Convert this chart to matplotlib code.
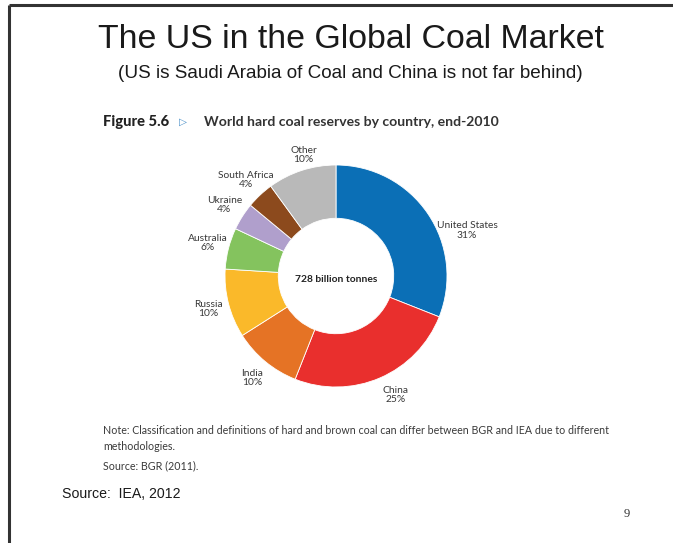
import numpy as np
import matplotlib
matplotlib.use("Agg")
from matplotlib import pyplot as plt

# World hard coal reserves by country, end-2010 (share of total, %)
countries = ["United States", "China", "India", "Russia", "Australia",
             "Ukraine", "South Africa", "Other"]
shares = [31, 25, 10, 10, 6, 4, 4, 10]
total_reserves = "728 billion tonnes"

colors = ["#0b6fb6", "#e92f2d", "#e57325", "#fab92a", "#84c35e",
          "#b09fcc", "#8c4a1d", "#b9b9b9"]

# label placement tweaks (degrees, radius factor) relative to wedge middle
label_tweak = {"United States": (-15, 1.25), "China": (3, 1.2), "Other": (-3, 1.13)}

W, H = 673, 543
fig = plt.figure(figsize=(W / 100, H / 100), dpi=100)
ax = fig.add_axes([0, 0, 1, 1])

# work in pixel coordinates, y measured from the top
cx, cy, R = 336, 276, 111
wedges, _ = ax.pie(shares, colors=colors, startangle=90, counterclock=False,
                   center=(cx, H - cy), radius=R,
                   wedgeprops=dict(width=R * 0.48, edgecolor="white", linewidth=0.6))
ax.set_xlim(0, W)
ax.set_ylim(0, H)
ax.set_aspect("auto")
ax.axis("off")

label_font = ["Lato", "DejaVu Sans"]
for w, name, val in zip(wedges, countries, shares):
    mid = (w.theta1 + w.theta2) / 2
    dang, rf = label_tweak.get(name, (0, 1.19))
    a = np.deg2rad(mid + dang)
    x = cx + rf * R * np.cos(a)
    y = (H - cy) + rf * R * np.sin(a)
    ax.text(x, y, f"{name}\n{val}%", ha="center", va="center", fontsize=7.4,
            family=label_font, color="#383838", linespacing=1.05)

ax.text(cx, H - 279, total_reserves, ha="center", va="center", fontsize=7.4,
        family=label_font, fontweight="bold", color="#222222")

# slide title and subtitle
ax.text(351, H - 40, "The US in the Global Coal Market", ha="center", va="center",
        fontsize=24.4, family="Liberation Sans", color="#1a1a1a")
ax.text(350, H - 74, "(US is Saudi Arabia of Coal and China is not far behind)",
        ha="center", va="center", fontsize=13.6, family="Liberation Sans", color="#1a1a1a")

# figure caption
ax.text(103, H - 122, "Figure 5.6", ha="left", va="center", fontsize=10.6,
        family=label_font, fontweight="black", color="#222222")
ax.text(179, H - 122, "\u25B7", ha="left", va="center", fontsize=7.5,
        family="DejaVu Sans", color="#4a90c8")
ax.text(204, H - 122, "World hard coal reserves by country, end-2010", ha="left",
        va="center", fontsize=10.1, family=label_font, fontweight="bold", color="#333333")

# notes under the chart
note_kw = dict(ha="left", va="center", fontsize=7.7, family=label_font, color="#3a3a3a")
ax.text(103, H - 430, "Note: Classification and definitions of hard and brown coal can "
        "differ between BGR and IEA due to different", **note_kw)
ax.text(103, H - 447, "methodologies.", **note_kw)
ax.text(103, H - 466, "Source: BGR (2011).", **note_kw)

ax.text(62, H - 494, "Source:  IEA, 2012", ha="left", va="center", fontsize=10.2,
        family="Liberation Sans", color="#1a1a1a")
ax.text(627, H - 514, "9", ha="center", va="center", fontsize=9,
        family="Liberation Serif", color="#333333")

# slide frame (left and top edges)
ax.plot([9, 9], [0, H - 5], color="#333333", lw=2.2, solid_capstyle="butt")
ax.plot([9, W], [H - 5, H - 5], color="#333333", lw=2.2, solid_capstyle="butt")

fig.savefig("out.png", dpi=100)
